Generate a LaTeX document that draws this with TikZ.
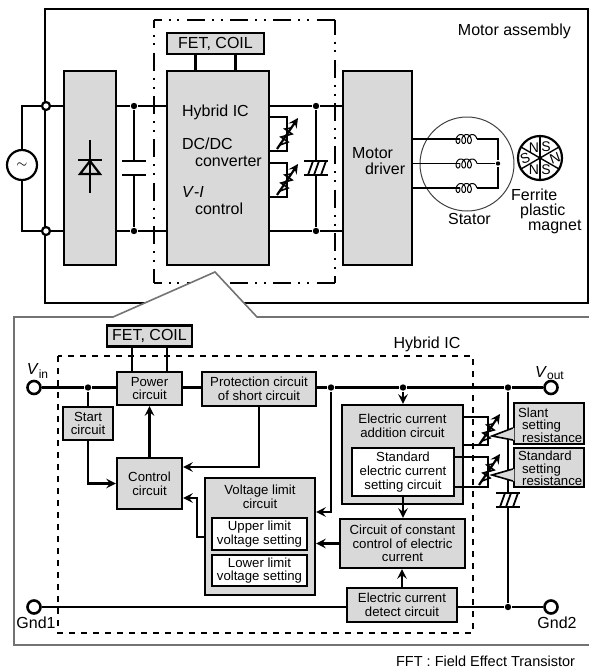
\documentclass[tikz,border=0pt]{standalone}
\usepackage{fontspec}
\setmainfont{Liberation Sans}
\usetikzlibrary{calc}
\definecolor{blockgray}{gray}{0.85}
\tikzset{
	wh/.style 2 args={minimum width=#1*0.5pt, minimum height=#2*0.5pt},
	bigtext/.style={font=\fontsize{8}{8.5}\selectfont},
	smalltext/.style={font=\fontsize{6.6}{6.8}\selectfont},
	tighttext/.style={font=\fontsize{6.6}{6.2}\selectfont},
	block/.style={draw, fill=blockgray, inner sep=0pt, align=center},
	whiteblock/.style={draw, fill=white, inner sep=0pt, align=center},
	lab/.style={inner sep=0pt, align=left},
	dot/.style={circle, fill=black, inner sep=0pt, minimum size=3.2pt},
	junc/.style={circle, draw, fill=white, inner sep=0pt, minimum size=4pt},
	term/.style={circle, draw, fill=white, inner sep=0pt, line width=1.3pt, minimum size=6.5pt},
	maglab/.style={inner sep=0pt, font=\fontsize{7}{7}\selectfont},
	dashdot/.style={dash pattern=on 9pt off 3.5pt on 1pt off 3.4pt on 1pt off 3.75pt, dash phase=5pt},
	dashbox/.style={dash pattern=on 3.2pt off 2.8pt},
	surge/.pic={
		\draw (-12,-7)--(12,-7);
		\draw (-12,7)--(12,7);
		\foreach \s in {-8,-2,5} \draw[line width=.9pt] (\s,7)--(\s+5,-7);
		\coordinate (-up) at (0,-7);
		\coordinate (-dn) at (0,7);
	},
	varres/.pic={
		\draw[->] (0,0)--(21,-31);
		\draw[line width=.8pt] (3,-4)--(11,-7)--(4,-12)--(15,-15)--(8,-20)--(14,-21);
	},
	coilmark/.pic={
		\draw[line width=.5pt,smooth,samples=120,domain=-90:990] plot ({5.7*\x/360-3.2*sin(\x)},{4.5*cos(\x)});
		\coordinate (-in) at (1.8,0);
		\coordinate (-out) at (18.9,0);
	},
}
\begin{document}
\begin{tikzpicture}[x=0.5pt,y=-0.5pt,>=stealth,line width=1.1pt]
	\useasboundingbox (0,0) rectangle (589,670);
	% motor assembly
	\draw (45,9) rectangle (588,303);
	\draw[dashdot] (153.5,20)--(335,20);
	\draw[dashdot] (154,19.5)--(154,283);
	\draw[dashdot] (153.5,283)--(335,283);
	\draw[dashdot,dash phase=1.5pt] (335,19.5)--(335,283);
	\node[bigtext,lab,anchor=east] (motorasm) at (572,31) {Motor assembly};
	\node[block,bigtext,wh={97}{21}] (fetA) at (215.5,43.5) {FET, COIL};
	\node[block,wh={52}{194}] (rect) at (90,168) {};
	\node[block,wh={102}{194}] (hyb) at (218,168) {};
	\node[block,wh={69}{194}] (mot) at (377.5,168) {};
	\node[bigtext,lab,anchor=west] (hybA) at (181,112) {Hybrid IC};
	\node[bigtext,lab,anchor=west] (hybB) at (181,144) {DC/DC};
	\node[bigtext,lab,anchor=west] (hybC) at (194,161) {converter};
	\node[bigtext,lab,anchor=west] (hybD) at (181,192) {\textit{V}-\textit{I}};
	\node[bigtext,lab,anchor=west] (hybE) at (194,209) {control};
	\node[bigtext,lab,anchor=west] (motA) at (351,153) {Motor};
	\node[bigtext,lab,anchor=west] (motB) at (364,169) {driver};
	\node[circle,draw,inner sep=0pt,minimum size=15pt,font=\fontsize{6}{6}\selectfont] (ac) at (22,165) {$\sim$};
	\node[junc] (jt) at (46,106) {};
	\node[junc] (jb) at (46,231) {};
	\node[dot] (dt) at (134,106) {};
	\node[dot] (db) at (134,231) {};
	\node[dot] (dr) at (316,106) {};
	\node[dot] (ds) at (316,231) {};
	\draw (ac.north) |- (jt);
	\draw (ac.south) |- (jb);
	\draw (jt)--(rect.west |- jt);
	\draw (jb)--(rect.west |- jb);
	\draw (rect.east |- dt)--(dt)--(hyb.west |- dt);
	\draw (rect.east |- db)--(db)--(hyb.west |- db);
	\draw (hyb.east |- dr)--(dr)--(mot.west |- dr);
	\draw (hyb.east |- ds)--(ds)--(mot.west |- ds);
	\foreach \s in {-20,20} \draw ($(fetA.south)+(\s,0)$)--++(0,17);
	% diode
	\draw (90,140)--(90,193);
	\draw (78,160)--(102,160);
	\draw (90,161)--(80,174)--(100,174)--cycle;
	% capacitor
	\coordinate (capa) at (134,161);
	\coordinate (capb) at (134,175);
	\draw (dt)--(capa);
	\draw (capb)--(db);
	\draw ($(capa)+(-12,0)$)--($(capa)+(12,0)$);
	\draw ($(capb)+(-12,0)$)--($(capb)+(12,0)$);
	% setting resistors
	\foreach \y in {117,163} {
		\draw (hyb.east |- 0,\y) -| (287,\y+34)--(hyb.east |- 0,\y+34);
		\pic at (277,\y+32) {varres};
	}
	\pic (znrA) at (316,168) {surge};
	\draw (dr)--(znrA-up);
	\draw (znrA-dn)--(ds);
	% stator
	\node[circle,draw,line width=.5pt,draw=black!75,inner sep=0pt,minimum size=47pt] (stator) at (467,164) {};
	\node[dot,minimum size=2.2pt] (star) at (498,163.5) {};
	\foreach \n/\y in {A/139,B/163.5,C/188} {
		\pic (coil\n) at (458,\y) {coilmark};
		\draw[line width=.8pt] (mot.east |- coil\n-in)--(coil\n-in);
	}
	\draw[line width=.8pt] (coilA-out) -| (star);
	\draw[line width=.8pt] (coilB-out)--(star);
	\draw[line width=.8pt] (coilC-out) -| (star);
	\node[bigtext,lab,anchor=west] (statorlab) at (447,219) {Stator};
	% magnet
	\node[circle,draw,inner sep=0pt,minimum size=22pt] (mag) at (540,158) {};
	\foreach \a/\b in {90/270,30/210,150/330} \draw[line width=.7pt] (mag.\a)--(mag.\b);
	\foreach \n/\x/\y/\t/\r in {a/534/148/N/0,b/546/147/S/0,c/525/158/S/20,d/555/158/N/20,e/534/170/N/0,f/546/170/S/0}
		\node[maglab,rotate=\r] (mag\n) at (\x,\y) {\t};
	\node[bigtext,lab,anchor=west] (magA) at (510,195) {Ferrite};
	\node[bigtext,lab,anchor=west] (magB) at (519,211) {plastic};
	\node[bigtext,lab,anchor=west] (magC) at (527,227) {magnet};
	% hybrid ic panel
	\draw[draw=black!55,fill=white,line width=.8pt] (589,645)--(14,645)--(14,317)--(113,317)--(215,272)--(257,317)--(589,317);
	\draw[dashbox] (58,356) rectangle (473,633);
	\node[bigtext,lab] (hyblab) at (427,344) {Hybrid IC};
	\node[lab,font=\fontsize{7.25}{8}\selectfont] (fftlab) [anchor=west] at (395,661) {FFT : Field Effect Transistor};
	\node[bigtext,lab] (vinlab) at (38,371) {\textit{V}\textsubscript{in}};
	\node[bigtext,lab] (voutlab) at (550,373) {\textit{V}\textsubscript{out}};
	\node[bigtext,lab] (gndAlab) at (36,623) {Gnd1};
	\node[bigtext,lab] (gndBlab) at (557,623) {Gnd2};
	\node[block,bigtext,wh={85}{21}] (fetB) at (149.5,336) {FET, COIL};
	\node[block,smalltext,wh={65}{33}] (pwr) at (149.5,388.5) {Power\\circuit};
	\node[block,smalltext,wh={114}{34}] (prot) at (259,389) {Protection circuit\\of short circuit};
	\node[block,smalltext,wh={50}{33}] (start) at (88,423.5) {Start\\circuit};
	\node[block,smalltext,wh={65}{51}] (ctl) at (149.5,483.5) {Control\\circuit};
	\node[block,wh={110}{117}] (volt) at (260,536.5) {};
	\node[smalltext,inner sep=0pt,align=center] (voltlab) at (260,497) {Voltage limit\\circuit};
	\node[whiteblock,smalltext,wh={95}{32}] (upper) at (259.5,534) {Upper limit\\voltage setting};
	\node[whiteblock,smalltext,wh={95}{31}] (lower) at (259.5,570.5) {Lower limit\\voltage setting};
	\node[block,wh={121}{99}] (add) at (402.5,454.5) {};
	\node[smalltext,inner sep=0pt,align=center] (addlab) at (402.5,426) {Electric current\\addition circuit};
	\node[whiteblock,smalltext,wh={102}{48}] (std) at (403,472) {Standard\\electric current\\setting circuit};
	\node[block,smalltext,wh={125}{49}] (cnst) at (402.5,543.5) {Circuit of constant\\control of electric\\current};
	\node[block,smalltext,wh={110}{34}] (det) at (402,605) {Electric current\\detect circuit};
	\node[term] (vin) at (34,387.5) {};
	\node[term] (vout) at (551,387.5) {};
	\node[term] (gndA) at (34,607) {};
	\node[term] (gndB) at (551,607) {};
	\node[dot] (da) at (88,387.5) {};
	\node[dot] (db) at (331,387.5) {};
	\node[dot] (dc) at (403,387.5) {};
	\node[dot] (dd) at (508,387.5) {};
	\node[dot] (de) at (508,607) {};
	% wires
	\foreach \s in {-17.5,17.5} \draw ($(fetB.south)+(\s,0)$)--($(pwr.north)+(\s,0)$);
	\draw (vin)--(da)--(pwr.west |- da);
	\draw (pwr.east |- da)--(prot.west |- da);
	\draw (prot.east |- da)--(db)--(dc)--(dd)--(vout);
	\draw (gndA)--(det.west |- gndA);
	\draw (det.east |- gndA)--(de)--(gndB);
	\draw (da)--(start.north);
	\draw[->] (start.south) |- (ctl.west);
	\draw[->] (ctl.north)--(pwr.south);
	\draw[->] (prot.south) |- (ctl.east |- 0,467);
	\draw[->] (volt.west |- 0,537)--++(-7,0) |- (ctl.east |- 0,498);
	\draw[->] (db) |- (volt.east |- 0,512);
	\draw[->] (cnst.west)--(cnst.west -| volt.east);
	\draw[->] (dc)--(dc |- add.north);
	\draw[->] (std.south)--(std.south |- cnst.north);
	\draw[->] (det.north)--(det.north |- cnst.south);
	% setting resistors
	\draw (add.east |- 0,417) -| (488,445)--(add.east |- 0,445);
	\draw (std.east |- 0,457) -| (488,487)--(std.east |- 0,487);
	\pic at (479,445) {varres};
	\pic at (479,485) {varres};
	\pic (znrB) at (508,500) {surge};
	\draw (dd)--(znrB-up);
	\draw (znrB-dn)--(de);
	\node[block,wh={70}{41}] (slant) at (549,423.5) {};
	\node[block,wh={70}{39}] (stand) at (549,467.5) {};
	\node[tighttext,lab,anchor=west] (slantlab) at (517,425) {Slant\\\hspace*{2pt}setting\\\hspace*{2pt}resistance};
	\node[tighttext,lab,anchor=west] (standlab) at (517,468.5) {Standard\\\hspace*{2pt}setting\\\hspace*{2pt}resistance};
	\coordinate (tipA) at (492,436);
	\coordinate (tipB) at (492,475);
	\fill[blockgray] ($(slant.west)+(1.5,4.5)$)--($(slant.west)+(0,4.5)$)--(tipA)--($(slant.west)+(0,16.5)$)--($(slant.west)+(1.5,16.5)$)--cycle;
	\fill[blockgray] ($(stand.west)+(1.5,1.5)$)--($(stand.west)+(0,1.5)$)--(tipB)--($(stand.west)+(0,13.5)$)--($(stand.west)+(1.5,13.5)$)--cycle;
	\draw[line width=.8pt] ($(slant.west)+(0,4.5)$)--(tipA)--($(slant.west)+(0,16.5)$);
	\draw[line width=.8pt] ($(stand.west)+(0,1.5)$)--(tipB)--($(stand.west)+(0,13.5)$);
\end{tikzpicture}
\end{document}
